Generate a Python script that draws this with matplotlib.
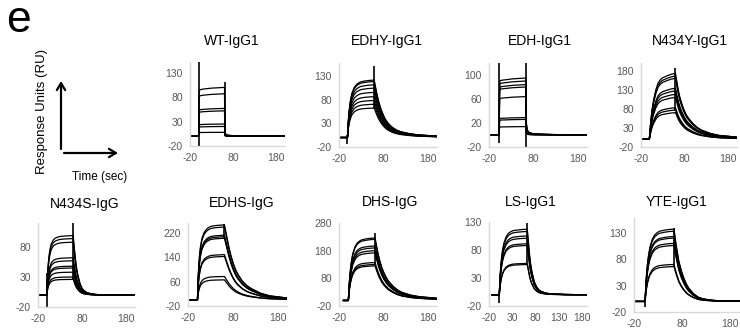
import numpy as np
import matplotlib.pyplot as plt
from matplotlib.patches import FancyArrowPatch

plt.rcParams['font.family'] = ['Liberation Sans', 'DejaVu Sans']
plt.rcParams['axes.unicode_minus'] = False

W, H = 740, 330

# sample times (s) after start of injection / after end of injection
ASSOC_T = [0, 0.5, 1, 2, 3, 5, 7, 10, 15, 20, 25, 30, 40, 50, 60]
DISSOC_T = [0, 0.5, 1, 2, 3, 5, 7, 10, 15, 20, 25, 30, 40, 50, 60, 80, 100, 140]

TITLES = ['WT-IgG1', 'EDHY-IgG1', 'EDH-IgG1', 'N434Y-IgG1',
          'N434S-IgG', 'EDHS-IgG', 'DHS-IgG', 'LS-IgG1', 'YTE-IgG1']

# response (RU) at end of association, one entry per injected concentration
WT_LEVELS = [100, 87, 57, 52, 25, 20, 8]
EDHY_LEVELS = [121, 118, 111, 104, 95, 86, 78, 70, 62]
EDH_LEVELS = [95, 90, 84, 80, 64, 29, 26, 14]
N434Y_LEVELS = [173, 166, 160, 134, 127, 118, 110, 83, 77, 70]
N434S_LEVELS = [99, 94, 88, 62, 57, 48, 45, 38, 30, 26]
EDHS_LEVELS = [247, 240, 213, 208, 203, 149, 143, 77, 66]
DHS_LEVELS = [226, 221, 197, 190, 180, 172, 137, 130, 125]
LS_LEVELS = [117, 113, 105, 101, 91, 88, 56, 54]
YTE_LEVELS = [137, 133, 123, 120, 110, 106, 70, 66]

# association curve as fraction of end level, read at ASSOC_T
WT_ASSOC = [0, 0.7, 0.9, 0.94, 0.95, 0.955, 0.96, 0.965, 0.97, 0.975, 0.98, 0.985, 0.99, 0.995, 1.0]
EDHY_ASSOC = [0, 0.08, 0.16, 0.3, 0.4, 0.55, 0.66, 0.77, 0.87, 0.92, 0.95, 0.97, 0.985, 0.995, 1.0]
EDH_ASSOC = [0, 0.72, 0.92, 0.95, 0.955, 0.96, 0.962, 0.965, 0.97, 0.975, 0.98, 0.985, 0.99, 0.995, 1.0]
N434Y_ASSOC = [0, 0.04, 0.08, 0.16, 0.24, 0.37, 0.48, 0.6, 0.75, 0.85, 0.9, 0.93, 0.96, 0.985, 1.0]
N434S_ASSOC = [0, 0.12, 0.22, 0.38, 0.5, 0.66, 0.76, 0.86, 0.93, 0.96, 0.975, 0.985, 0.993, 0.997, 1.0]
EDHS_ASSOC = [0, 0.1, 0.2, 0.35, 0.46, 0.62, 0.72, 0.82, 0.9, 0.94, 0.965, 0.98, 0.99, 0.995, 1.0]
DHS_ASSOC = [0, 0.07, 0.14, 0.27, 0.37, 0.52, 0.63, 0.75, 0.86, 0.92, 0.95, 0.97, 0.985, 0.995, 1.0]
LS_ASSOC = [0, 0.08, 0.16, 0.3, 0.41, 0.57, 0.68, 0.79, 0.89, 0.94, 0.965, 0.98, 0.99, 0.997, 1.0]
YTE_ASSOC = [0, 0.07, 0.14, 0.27, 0.37, 0.52, 0.63, 0.75, 0.86, 0.92, 0.95, 0.97, 0.985, 0.995, 1.0]

# dissociation curve as fraction of end level, read at DISSOC_T
WT_DISSOC = [1, 0.3, 0.12, 0.06, 0.045, 0.03, 0.025, 0.02, 0.015, 0.012, 0.01, 0.01, 0.008, 0.007, 0.006, 0.005, 0.004, 0.003]
EDHY_DISSOC = [1, 0.98, 0.96, 0.92, 0.88, 0.8, 0.73, 0.63, 0.5, 0.4, 0.32, 0.26, 0.18, 0.13, 0.1, 0.065, 0.045, 0.025]
EDH_DISSOC = [1, 0.4, 0.2, 0.12, 0.09, 0.06, 0.045, 0.035, 0.025, 0.02, 0.017, 0.015, 0.012, 0.01, 0.008, 0.006, 0.004, 0.003]
N434Y_DISSOC = [1, 0.98, 0.96, 0.92, 0.88, 0.8, 0.73, 0.64, 0.53, 0.44, 0.37, 0.32, 0.24, 0.18, 0.14, 0.09, 0.06, 0.035]
N434S_DISSOC = [1, 0.95, 0.9, 0.82, 0.74, 0.6, 0.48, 0.35, 0.2, 0.11, 0.07, 0.045, 0.02, 0.01, 0.005, 0.003, 0.002, 0]
EDHS_DISSOC = [1, 0.985, 0.97, 0.94, 0.91, 0.85, 0.79, 0.7, 0.58, 0.48, 0.4, 0.34, 0.25, 0.19, 0.15, 0.09, 0.055, 0.025]
DHS_DISSOC = [1, 0.98, 0.96, 0.92, 0.88, 0.81, 0.74, 0.65, 0.53, 0.44, 0.37, 0.31, 0.23, 0.17, 0.13, 0.085, 0.06, 0.035]
LS_DISSOC = [1, 0.96, 0.92, 0.84, 0.76, 0.6, 0.48, 0.35, 0.2, 0.12, 0.075, 0.05, 0.025, 0.015, 0.01, 0.005, 0.003, 0]
YTE_DISSOC = [1, 0.98, 0.95, 0.9, 0.85, 0.76, 0.68, 0.56, 0.43, 0.33, 0.25, 0.19, 0.11, 0.06, 0.035, 0.015, 0.008, 0.003]

# injection start (s), and time where the recorded baseline begins
INJ_START = [0, -1, 3, -1, 0, 1, 1, 2, 3]
BASE_START = [-20, -20, -20, -20, -20, -20, -10, -14, -20]
INJ_LEN = 60

# injection artefacts: (time, low RU, high RU)
WT_SPIKES = [(0, -24, 152), (60, 0, 112)]
EDHY_SPIKES = [(-1, -13, 5), (59, 62, 150)]
EDH_SPIKES = [(3, -14, 120), (63, -20, 120)]
N434Y_SPIKES = [(59, 75, 187)]
N434S_SPIKES = [(0, -20, 37), (60, 26, 120)]
EDHS_SPIKES = [(61, 200, 250)]
DHS_SPIKES = [(61, 130, 245)]
LS_SPIKES = [(2, -14, 0), (62, 56, 128)]
YTE_SPIKES = [(3, -10, 0), (63, 68, 140)]

LEVELS = [WT_LEVELS, EDHY_LEVELS, EDH_LEVELS, N434Y_LEVELS, N434S_LEVELS,
          EDHS_LEVELS, DHS_LEVELS, LS_LEVELS, YTE_LEVELS]
ASSOC = [WT_ASSOC, EDHY_ASSOC, EDH_ASSOC, N434Y_ASSOC, N434S_ASSOC,
         EDHS_ASSOC, DHS_ASSOC, LS_ASSOC, YTE_ASSOC]
DISSOC = [WT_DISSOC, EDHY_DISSOC, EDH_DISSOC, N434Y_DISSOC, N434S_DISSOC,
          EDHS_DISSOC, DHS_DISSOC, LS_DISSOC, YTE_DISSOC]
SPIKES = [WT_SPIKES, EDHY_SPIKES, EDH_SPIKES, N434Y_SPIKES, N434S_SPIKES,
          EDHS_SPIKES, DHS_SPIKES, LS_SPIKES, YTE_SPIKES]

YTICKS = [[-20, 30, 80, 130], [-20, 30, 80, 130], [-20, 20, 60, 100],
          [-20, 30, 80, 130, 180], [-20, 30, 80], [-20, 60, 140, 220],
          [-20, 80, 180, 280], [-20, 30, 80, 130], [-20, 30, 80, 130]]
XTICKS = [[-20, 80, 180]] * 7 + [[-20, 30, 80, 130, 180], [-20, 80, 180]]

# layout in pixels: left, top, right, bottom of each plot area
BOXES = [(190, 62, 285, 146), (339, 63, 437, 147), (489, 63, 587, 147),
         (641, 63, 737, 147), (38, 223, 135, 307), (188, 223, 287, 306),
         (339, 223, 437, 306), (489, 222, 587, 306), (634, 218, 740, 312)]
YTOP = [152, 157, 120, 200, 120, 253, 280, 130, 158]
XMAX = [200, 200, 200, 200, 200, 200, 200, 190, 200]
TITLE_POS = [(232, 41), (387, 41), (540, 41), (690, 41),
             (85, 204), (242, 203), (390, 202), (531, 202), (677, 202)]

GRAY_AXIS = '#d9d9d9'
GRAY_TEXT = '#595959'

fig = plt.figure(figsize=(W / 100, H / 100), dpi=100)

for i, title in enumerate(TITLES):
    l, t, r, b = BOXES[i]
    ax = fig.add_axes([l / W, 1 - b / H, (r - l) / W, (b - t) / H])
    t0 = INJ_START[i]
    t1 = t0 + INJ_LEN
    assoc = np.array(ASSOC[i])
    dissoc = np.array(DISSOC[i])
    for lev in LEVELS[i]:
        tt = np.concatenate([[BASE_START[i], t0], t0 + np.array(ASSOC_T), t1 + np.array(DISSOC_T)])
        yy = np.concatenate([[0, 0], lev * assoc, lev * assoc[-1] * dissoc])
        ax.plot(tt, yy, color='k', lw=0.9)
    for ts, lo, hi in SPIKES[i]:
        ax.vlines(ts, lo, hi, color='k', lw=1.2)

    ax.set_xlim(-20, XMAX[i])
    ax.set_ylim(-20, YTOP[i])
    ax.set_xticks(XTICKS[i])
    ax.set_yticks(YTICKS[i])
    for s in ['top', 'right']:
        ax.spines[s].set_visible(False)
    for s in ['left', 'bottom']:
        ax.spines[s].set_color(GRAY_AXIS)
        ax.spines[s].set_linewidth(1.0)
    ax.tick_params(length=0, labelsize=7.5, labelcolor=GRAY_TEXT, pad=5)
    ax.patch.set_visible(False)

    x, y = TITLE_POS[i]
    fig.text(x / W, 1 - y / H, title, ha='center', va='center', fontsize=10)

# panel letter and axis schematic
fig.text(6 / W, 1 - 32 / H, 'e', fontsize=32, va='baseline', ha='left')
for start, end in [((61, 149), (61, 81)), ((64, 153), (118, 153))]:
    arr = FancyArrowPatch((start[0] / W, 1 - start[1] / H), (end[0] / W, 1 - end[1] / H),
                          transform=fig.transFigure, arrowstyle='->,head_length=0.5,head_width=0.3',
                          mutation_scale=10, lw=1.6, color='k', shrinkA=0, shrinkB=0)
    fig.add_artist(arr)
fig.text(100 / W, 1 - 177 / H, 'Time (sec)', ha='center', va='center', fontsize=8.5)
fig.text(42 / W, 1 - 111 / H, 'Response Units (RU)', ha='center', va='center',
         rotation=90, fontsize=9.5)

fig.savefig('out.png', dpi=100)
